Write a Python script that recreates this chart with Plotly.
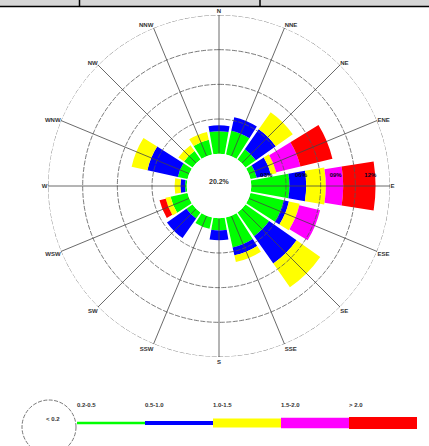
import numpy as np
import plotly.graph_objects as go

# ---------------- data ----------------
directions = ["N", "NNE", "NE", "ENE", "E", "ESE", "SE", "SSE",
              "S", "SSW", "SW", "WSW", "W", "WNW", "NW", "NNW"]
angles = [0, 22.5, 45, 67.5, 90, 112.5, 135, 157.5,
          180, 202.5, 225, 247.5, 270, 292.5, 315, 337.5]

speed_bins = ["0.2-0.5", "0.5-1.0", "1.0-1.5", "1.5-2.0", "> 2.0"]
bin_colors = ["#00ff00", "#0000ff", "#ffff00", "#ff00ff", "#ff0000"]

freq_02_05 = [1.95, 2.1, 1.1, 0.55, 3.3, 2.95, 2.5, 2.65, 1.05, 1.0, 0.65, 1.5, 0.15, 0.85, 0.9, 1.3]
freq_05_10 = [0.5, 1.2, 2.1, 1.25, 1.45, 0.45, 2.9, 0.7, 0.85, 0.0, 2.05, 0.0, 0.4, 2.7, 0.0, 0.0]
freq_10_15 = [0.0, 0.0, 1.8, 0.5, 1.7, 0.95, 2.5, 0.6, 0.0, 0.0, 0.0, 0.45, 0.5, 1.4, 0.6, 0.7]
freq_15_20 = [0.0, 0.0, 0.0, 2.15, 1.5, 1.85, 0.0, 0.0, 0.0, 0.0, 0.0, 0.0, 0.0, 0.0, 0.0, 0.0]
freq_gt_20 = [0.0, 0.0, 0.0, 2.85, 2.8, 0.0, 0.0, 0.0, 0.0, 0.0, 0.0, 0.55, 0.0, 0.0, 0.0, 0.0]
series = [freq_02_05, freq_05_10, freq_10_15, freq_15_20, freq_gt_20]

calm_label = "20.2%"
calm_legend = "< 0.2"
ring_values = [3, 6, 9, 12]
ring_labels = ["03%", "06%", "09%", "12%"]

# ---------------- figure ----------------
W, H = 429, 446
FONT = "Liberation Sans Narrow, Liberation Sans, Arial, sans-serif"
TXT = "#333333"
bar_widths = [20, 20, 20, 18, 18]

fig = go.Figure()

for name, vals, col, bw in zip(speed_bins, series, bin_colors, bar_widths):
    fig.add_trace(go.Barpolar(
        r=vals, theta=angles, width=[bw] * len(angles), name=name,
        marker=dict(color=col, line=dict(width=0)),
        hoverinfo="skip", showlegend=False))

# rings drawn above the bars
ring_theta = np.linspace(0, 360, 361)
for rv in ring_values:
    fig.add_trace(go.Scatterpolar(
        r=[rv] * len(ring_theta), theta=ring_theta, mode="lines",
        line=dict(color="#555555", width=0.8, dash="5px,1.5px"),
        hoverinfo="skip", showlegend=False, cliponaxis=False))

# spokes drawn above the bars
sp_r, sp_t = [], []
for a in angles:
    sp_r += [0, 12.25, None]
    sp_t += [a, a, None]
fig.add_trace(go.Scatterpolar(
    r=sp_r, theta=sp_t, mode="lines",
    line=dict(color="#444444", width=0.8),
    hoverinfo="skip", showlegend=False, cliponaxis=False))

# ring labels along the E axis
fig.add_trace(go.Scatterpolar(
    r=[v - 1.7 for v in ring_values], theta=[90] * len(ring_values),
    mode="text", text=[t + "<br> " for t in ring_labels], textposition="top center",
    textfont=dict(family=FONT, size=6, color="#000022", weight="bold"),
    hoverinfo="skip", showlegend=False, cliponaxis=False))

# ---------------- legend key (bottom) ----------------
leg_widths = [2.5, 4, 9, 10.5, 12]
for i, (name, col) in enumerate(zip(speed_bins, bin_colors)):
    fig.add_trace(go.Scatter(
        x=[i, i + 1], y=[23, 23], mode="lines",
        line=dict(color=col, width=leg_widths[i]),
        xaxis="x", yaxis="y", hoverinfo="skip", showlegend=False))
fig.add_trace(go.Scatter(
    x=list(range(len(speed_bins))), y=[41] * len(speed_bins),
    mode="text", text=speed_bins, textposition="middle right",
    textfont=dict(family=FONT, size=6, color=TXT, weight="bold"),
    xaxis="x", yaxis="y", hoverinfo="skip", showlegend=False, cliponaxis=False))

cx, cy, R = 219, 186, 171
fig.update_layout(
    width=W, height=H, autosize=False,
    margin=dict(l=0, r=0, t=0, b=0),
    paper_bgcolor="white", plot_bgcolor="white",
    showlegend=False,
    polar=dict(
        domain=dict(x=[(cx - R) / W, (cx + R) / W],
                    y=[(H - cy - R) / H, (H - cy + R) / H]),
        bgcolor="white",
        hole=32.3 / R,
        barmode="stack",
        bargap=0,
        radialaxis=dict(range=[0, 12], visible=False, showgrid=False),
        angularaxis=dict(rotation=90, direction="clockwise",
                         tickmode="array", tickvals=angles, ticktext=directions,
                         showgrid=False, showline=False, ticks="",
                         tickfont=dict(family=FONT, size=6, color=TXT, weight="bold")),
    ),
    xaxis=dict(domain=[77 / W, 417 / W], range=[0, 5], visible=False, fixedrange=True),
    yaxis=dict(domain=[0, 67 / H], range=[0, 67], visible=False, fixedrange=True),
    shapes=[
        dict(type="rect", xref="paper", yref="paper", x0=0, x1=1,
             y0=(H - 6) / H, y1=1, fillcolor="#d6d6d6", line=dict(width=0), layer="below"),
        dict(type="line", xref="paper", yref="paper", x0=0, x1=1,
             y0=(H - 6.5) / H, y1=(H - 6.5) / H, line=dict(color="black", width=1.5)),
        dict(type="line", xref="paper", yref="paper", x0=79.5 / W, x1=79.5 / W,
             y0=(H - 6.5) / H, y1=1, line=dict(color="black", width=1.5)),
        dict(type="line", xref="paper", yref="paper", x0=260 / W, x1=260 / W,
             y0=(H - 6.5) / H, y1=1, line=dict(color="black", width=1.5)),
        dict(type="circle", xref="paper", yref="paper",
             xsizemode="pixel", ysizemode="pixel",
             xanchor=49 / W, yanchor=(H - 427) / H,
             x0=-27, x1=27, y0=-27, y1=27,
             line=dict(color="#555555", width=0.8, dash="4px,1.5px")),
    ],
    annotations=[
        dict(text=calm_label, xref="paper", yref="paper",
             x=cx / W, y=(H - 182) / H, showarrow=False,
             font=dict(family=FONT, size=7, color=TXT, weight="bold")),
        dict(text=calm_legend, xref="paper", yref="paper",
             x=44 / W, y=(H - 424) / H, showarrow=False,
             font=dict(family=FONT, size=6, color=TXT, weight="bold")),
    ],
)

fig.write_html("out.html",
               config={"displayModeBar": False},
               post_script="document.body.style.margin='0';document.body.style.overflow='hidden';")
